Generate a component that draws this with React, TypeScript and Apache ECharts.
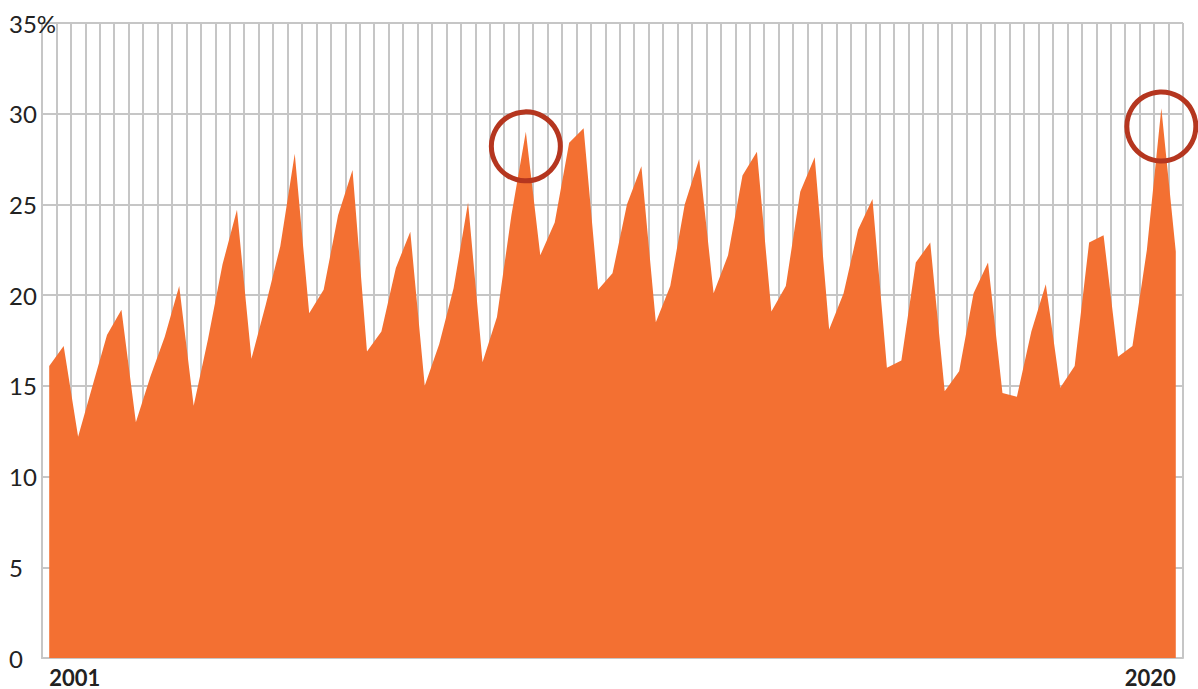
import React, { useEffect, useRef } from "react";
import * as echarts from "echarts";

// Quarterly share, 2001 Q1 – 2020 Q3
const years: number[] = [2001, 2002, 2003, 2004, 2005, 2006, 2007, 2008, 2009, 2010, 2011, 2012, 2013, 2014, 2015, 2016, 2017, 2018, 2019, 2020];
const quarters: string[] = ["Q1", "Q2", "Q3", "Q4"];
const categories: string[] = [];
years.forEach((y) => quarters.forEach((q) => categories.push(`${y}${q}`)));
categories.splice(79); // data ends at 2020 Q3

const values: number[] = [
  16.1, 17.2, 12.2, 15.0, 17.8, 19.2, 13.0, 15.5, 17.7, 20.5,
  13.9, 17.6, 21.7, 24.7, 16.5, 19.5, 22.7, 27.8, 19.0, 20.3,
  24.4, 26.9, 16.9, 18.0, 21.5, 23.5, 15.0, 17.3, 20.4, 25.1,
  16.3, 18.8, 24.4, 29.0, 22.2, 24.0, 28.4, 29.2, 20.3, 21.2,
  25.0, 27.1, 18.5, 20.5, 25.0, 27.5, 20.1, 22.2, 26.6, 27.9,
  19.1, 20.5, 25.7, 27.6, 18.1, 20.1, 23.6, 25.3, 16.0, 16.4,
  21.8, 22.9, 14.7, 15.8, 20.1, 21.8, 14.6, 14.4, 18.0, 20.6,
  14.9, 16.1, 22.9, 23.3, 16.6, 17.2, 22.5, 30.3, 22.4,
];

const yTicks = { min: 0, max: 35, interval: 5 };
const firstLabel = "2001";
const lastLabel = "2020";
const highlights: { cat: string; y: number }[] = [
  { cat: "2009Q2", y: 28.2 },
  { cat: "2020Q2", y: 29.3 },
];

const GRID = "#c6c6c6";
const ORANGE = "#f37032";
const RING = "#b5361f";
const FONT = "Lato, 'Open Sans', sans-serif";

export default function App() {
  const ref = useRef<HTMLDivElement>(null);
  useEffect(() => {
    if (!ref.current) return;
    const chart = echarts.init(ref.current, undefined, { renderer: "svg" });
    const last = categories.length - 1;
    chart.setOption({
      animation: false,
      backgroundColor: "#ffffff",
      grid: { left: 42, right: 15, top: 23, bottom: 31, containLabel: false },
      xAxis: {
        type: "category",
        data: categories,
        boundaryGap: true,
        axisLine: { show: true, lineStyle: { color: GRID, width: 2 } },
        axisTick: { show: false },
        splitLine: { show: true, interval: 0, lineStyle: { color: GRID, width: 2 } },
        axisLabel: {
          interval: (i: number) => i === 0 || i === last,
          formatter: (_v: string, i: number) => (i === 0 ? firstLabel : lastLabel),
          color: "#222",
          fontFamily: FONT,
          fontWeight: "bold",
          fontSize: 22,
          lineHeight: 20,
          margin: 9,
          alignMinLabel: "left",
          alignMaxLabel: "right",
        },
      },
      yAxis: {
        type: "value",
        min: yTicks.min,
        max: yTicks.max,
        interval: yTicks.interval,
        axisLine: { show: true, lineStyle: { color: GRID, width: 2 } },
        axisTick: { show: false },
        splitLine: { show: true, lineStyle: { color: GRID, width: 2 } },
        axisLabel: {
          align: "left",
          margin: 33,
          color: "#222",
          fontFamily: FONT,
          fontSize: 24,
          formatter: (v: number) => (v === yTicks.max ? `${v}%` : `${v}`),
        },
      },
      series: [
        {
          type: "line",
          data: values,
          symbol: "none",
          lineStyle: { width: 0, color: ORANGE },
          areaStyle: { color: ORANGE, opacity: 1 },
          z: 3,
          markPoint: {
            symbol: "circle",
            symbolSize: 69,
            label: { show: false },
            itemStyle: { color: "rgba(0,0,0,0)", borderColor: RING, borderWidth: 5 },
            data: highlights.map((h) => ({ coord: [h.cat, h.y] })),
          },
        },
      ],
    });
    return () => chart.dispose();
  }, []);
  return (
    <div
      ref={ref}
      style={{ position: "absolute", left: 0, top: 0, width: 1198, height: 689 }}
    />
  );
}
